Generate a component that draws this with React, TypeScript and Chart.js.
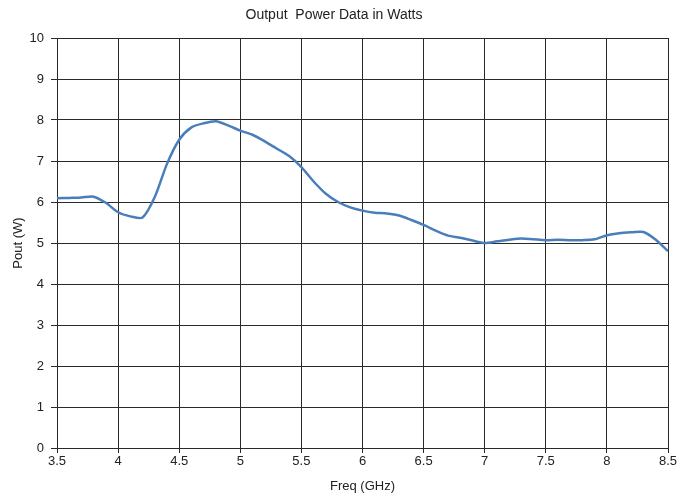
import React, { useEffect, useRef } from "react";
import { Chart, registerables } from "chart.js";

Chart.register(...registerables);

const freqGHz = [
  3.5, 3.6, 3.7, 3.8, 3.9, 4.0, 4.1, 4.2, 4.3, 4.4, 4.5, 4.6, 4.7, 4.8, 4.9,
  5.0, 5.1, 5.2, 5.3, 5.4, 5.5, 5.6, 5.7, 5.8, 5.9, 6.0, 6.1, 6.2, 6.3, 6.4,
  6.5, 6.6, 6.7, 6.8, 6.9, 7.0, 7.1, 7.2, 7.3, 7.4, 7.5, 7.6, 7.7, 7.8, 7.9,
  8.0, 8.1, 8.2, 8.3, 8.4, 8.5,
];
const poutW = [
  6.09, 6.1, 6.11, 6.13, 5.98, 5.75, 5.65, 5.62, 6.12, 6.93, 7.52, 7.82, 7.92, 7.97, 7.87,
  7.74, 7.64, 7.48, 7.3, 7.12, 6.85, 6.5, 6.2, 6.0, 5.87, 5.79, 5.74, 5.72, 5.67, 5.56,
  5.44, 5.3, 5.18, 5.13, 5.06, 5.0, 5.04, 5.08, 5.11, 5.09, 5.07, 5.08, 5.07, 5.07, 5.09,
  5.19, 5.24, 5.26, 5.27, 5.08, 4.8,
];
const xTicks = [3.5, 4, 4.5, 5, 5.5, 6, 6.5, 7, 7.5, 8, 8.5];
const yTicks = [0, 1, 2, 3, 4, 5, 6, 7, 8, 9, 10];

const titleText = "Output  Power Data in Watts";
const xTitle = "Freq (GHz)";
const yTitle = "Pout (W)";

export default function App() {
  const ref = useRef<HTMLCanvasElement | null>(null);

  useEffect(() => {
    document.body.style.margin = "0";
    const canvas = ref.current;
    if (!canvas) return;
    const font = "'Liberation Sans', Arial, sans-serif";
    const gridColor = "#2a2a2a";
    const chart = new Chart(canvas, {
      type: "line",
      data: {
        datasets: [
          {
            data: freqGHz.map((f, i) => ({ x: f, y: poutW[i] })),
            borderColor: "#4a7ebb",
            borderWidth: 2.5,
            pointRadius: 0,
            tension: 0.25,
            fill: false,
          },
        ],
      },
      options: {
        animation: false,
        responsive: false,
        maintainAspectRatio: false,
        layout: { padding: { left: 0, right: 12, top: 0, bottom: 0 } },
        plugins: {
          legend: { display: false },
          tooltip: { enabled: false },
          title: {
            display: true,
            text: titleText,
            color: "#222",
            font: { family: font, size: 14, weight: "normal", lineHeight: 1.2 },
            padding: { top: 7, bottom: 14.2 },
          },
        },
        scales: {
          x: {
            type: "linear",
            min: 3.5,
            max: 8.5,
            afterBuildTicks: (s: any) => {
              s.ticks = xTicks.map((v) => ({ value: v }));
            },
            afterFit: (s: any) => {
              s.height = 47;
            },
            grid: { color: gridColor, lineWidth: 1, tickLength: 5, tickColor: gridColor },
            border: { color: gridColor, width: 1 },
            ticks: {
              color: "#222",
              font: { family: font, size: 13 },
              padding: 1,
              maxRotation: 0,
              autoSkip: false,
              callback: (v: any) => String(Number(v)),
            },
            title: {
              display: true,
              text: xTitle,
              color: "#222",
              font: { family: font, size: 13, lineHeight: 1.2 },
              padding: { top: 0, bottom: 1 },
            },
          },
          y: {
            type: "linear",
            min: 0,
            max: 10,
            afterBuildTicks: (s: any) => {
              s.ticks = yTicks.map((v) => ({ value: v }));
            },
            afterFit: (s: any) => {
              s.width = 57;
            },
            grid: { color: gridColor, lineWidth: 1, tickLength: 6, tickColor: gridColor },
            border: { color: gridColor, width: 1 },
            ticks: {
              color: "#222",
              font: { family: font, size: 13 },
              padding: 7,
              autoSkip: false,
              callback: (v: any) => String(Number(v)),
            },
            title: {
              display: true,
              text: yTitle,
              color: "#222",
              font: { family: font, size: 13, lineHeight: 1.2 },
              padding: { top: 11, bottom: 0 },
            },
          },
        },
      },
    });
    return () => chart.destroy();
  }, []);

  return (
    <div style={{ position: "fixed", left: 0, top: 0, width: 680, height: 495, background: "#fff" }}>
      <canvas ref={ref} width={680} height={495} style={{ width: 680, height: 495, display: "block" }} />
    </div>
  );
}
